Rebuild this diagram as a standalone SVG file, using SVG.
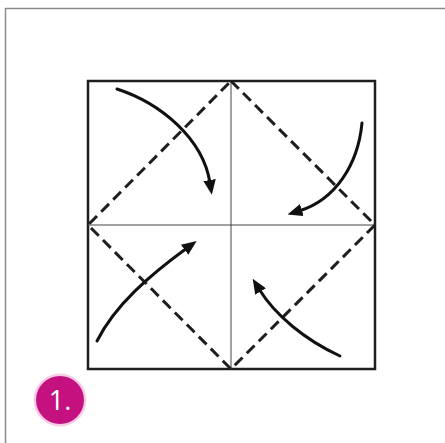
<svg xmlns="http://www.w3.org/2000/svg" width="445" height="443" viewBox="0 0 445 443">
<style>
.frame{fill:none;stroke:#8a8a8a;stroke-width:1.5}
.sq{fill:none;stroke:#1e1e1e;stroke-width:2.5}
.crease{stroke:#444;stroke-width:1}
.valley{fill:none;stroke:#1e1e1e;stroke-width:3;stroke-dasharray:11 6}
.arr{fill:none;stroke:#111;stroke-width:3;stroke-linecap:round;marker-end:url(#ah)}
.num{font-family:"Open Sans","Liberation Sans",sans-serif;font-size:27px;font-weight:500;fill:#fff}
</style>
<defs>
<marker id="ah" markerWidth="5" markerHeight="4.2" refX="1" refY="2.1" orient="auto" markerUnits="strokeWidth">
<path d="M0,0 L5,2.1 L0,4.2 Z" fill="#111"/>
</marker>
</defs>
<rect width="445" height="443" fill="#fff"/>
<path class="frame" d="M445,8.5 H5.5 V443"/>
<g id="paper">
<rect class="sq" x="88" y="81" width="287" height="288"/>
</g>
<g id="creases">
<line class="crease" x1="231" y1="81" x2="231" y2="369"/>
<line class="crease" x1="88" y1="225" x2="375" y2="225"/>
<path class="valley" d="M231,81 L375,225 L231,369 L88,225 Z"/>
</g>
<g id="connectors">
<path class="arr" d="M117,89 C160,103 203,138 210,183"/>
<path class="arr" d="M362,123 C358,165 335,200 299,211"/>
<path class="arr" d="M97,341 C115,305 150,275 187,248"/>
<path class="arr" d="M340,356 C305,340 275,315 259,289"/>
</g>
<g id="step">
<circle cx="60" cy="400" r="26.5" fill="#f7cde6"/>
<circle cx="60" cy="400" r="24" fill="#c4117f"/>
<text class="num" x="60" y="410" text-anchor="middle">1.</text>
</g>
</svg>
